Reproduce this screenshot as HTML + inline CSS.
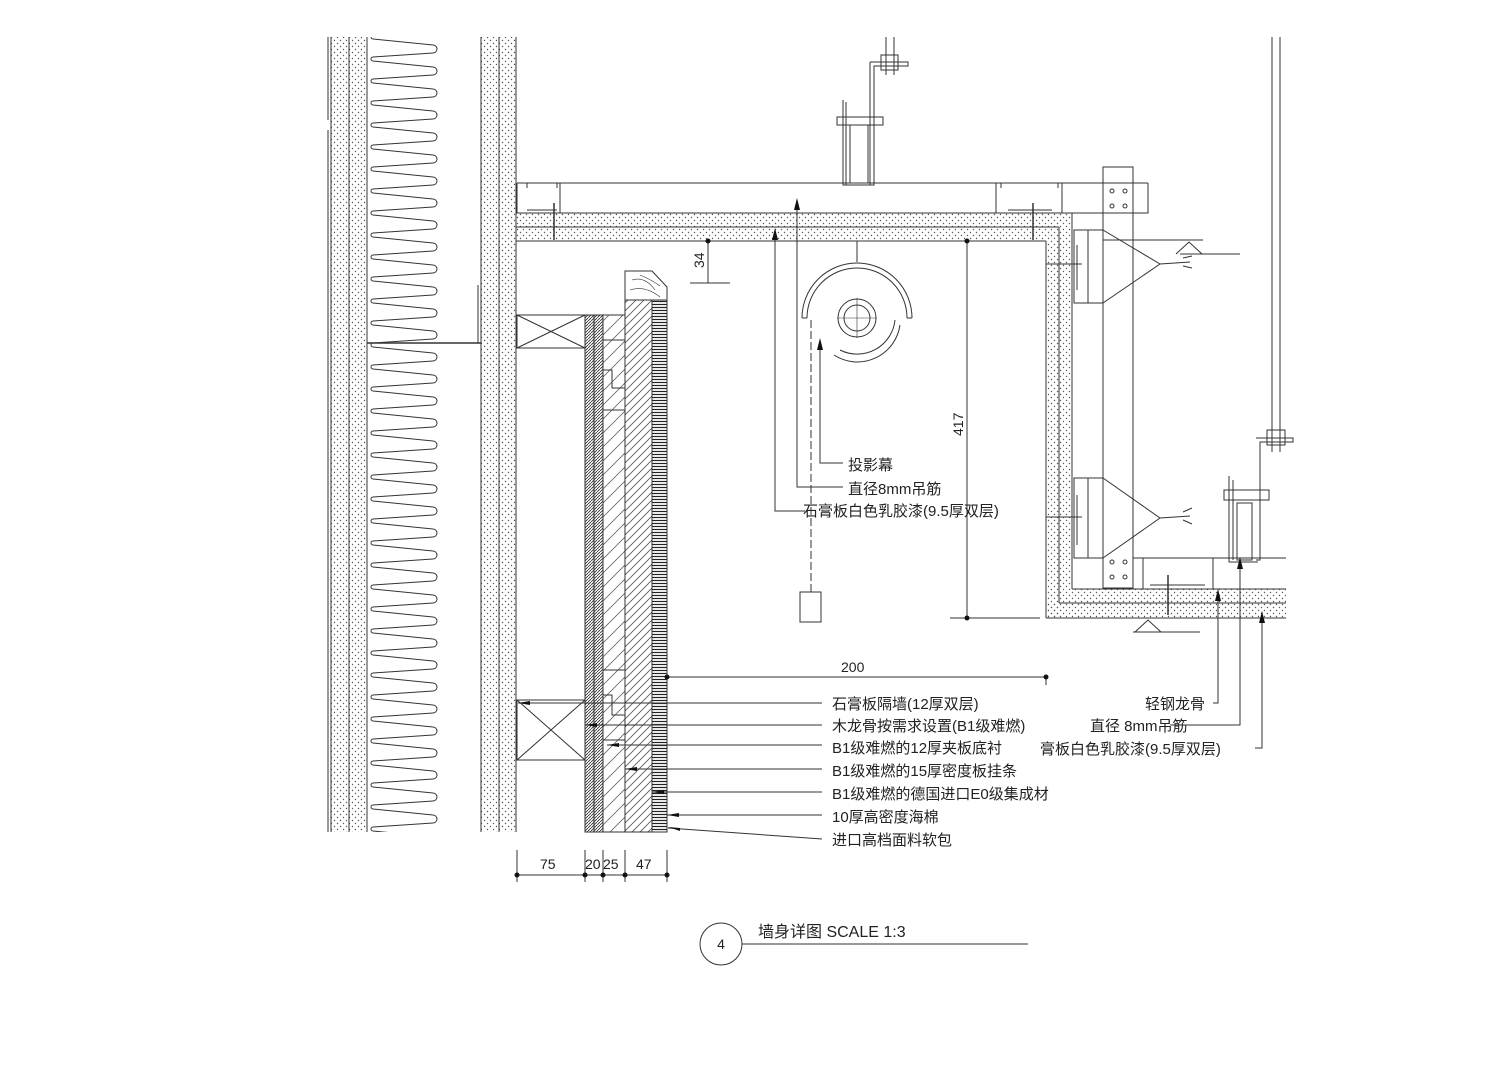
<!DOCTYPE html>
<html><head><meta charset="utf-8"><style>
html,body{margin:0;padding:0;background:#fff}
svg{display:block}
text{font-family:"Liberation Sans","Noto Sans CJK SC",sans-serif;fill:#222}
</style></head><body>
<svg width="1509" height="1066" viewBox="0 0 1509 1066" xmlns="http://www.w3.org/2000/svg">
<defs>
<pattern id="dots" width="6" height="6" patternUnits="userSpaceOnUse">
<circle cx="1.5" cy="1.5" r="0.7" fill="#555"/><circle cx="4.5" cy="4.5" r="0.7" fill="#555"/>
</pattern>
<pattern id="zig" x="367" y="37" width="75" height="22" patternUnits="userSpaceOnUse">
<path d="M6,2 L66,8 A4,4 0 0 1 66,16 L6,20 A2,2 0 0 0 6,24 M6,-2 A2,2 0 0 0 6,2" fill="none" stroke="#333" stroke-width="1"/>
</pattern>
<pattern id="hatch" width="8" height="8" patternUnits="userSpaceOnUse">
<path d="M0,8 L8,0 M-2,2 L2,-2 M6,10 L10,6" stroke="#555" stroke-width="0.8"/>
</pattern>
<pattern id="hatchw" width="14" height="14" patternUnits="userSpaceOnUse">
<path d="M0,14 L14,0 M-2,2 L2,-2 M12,16 L16,12" stroke="#666" stroke-width="0.8"/>
</pattern>
<pattern id="dense" width="3" height="3" patternUnits="userSpaceOnUse">
<path d="M0,3 L3,0" stroke="#333" stroke-width="0.9"/>
</pattern>
<pattern id="foam" width="15" height="3" patternUnits="userSpaceOnUse">
<path d="M0,1.5 L15,1.5" stroke="#222" stroke-width="1.2"/>
</pattern>
</defs>
<g fill="none" stroke="#333" stroke-width="1">
<rect x="331" y="37" width="36" height="795" fill="url(#dots)" stroke="none"/>
<line x1="331" y1="37" x2="331" y2="832"/><line x1="349" y1="37" x2="349" y2="832"/><line x1="367" y1="37" x2="367" y2="832"/>
<line x1="328" y1="37" x2="328" y2="120"/><line x1="328" y1="130" x2="328" y2="832"/>
<rect x="367" y="37" width="75" height="795" fill="url(#zig)" stroke="none"/>
<line x1="367" y1="343" x2="481" y2="343" stroke-width="1.5"/>
<line x1="478" y1="285" x2="478" y2="343"/>
<rect x="481" y="37" width="35" height="795" fill="url(#dots)" stroke="none"/>
<line x1="481" y1="37" x2="481" y2="832"/><line x1="499" y1="37" x2="499" y2="832"/><line x1="516" y1="37" x2="516" y2="832"/>
<rect x="516" y="213" width="556" height="14" fill="url(#dots)" stroke="none"/>
<rect x="516" y="227" width="543" height="14" fill="url(#dots)" stroke="none"/>
<path d="M516,213 H1072 M516,227 H1059 M516,241 H1046"/>
<line x1="517" y1="183" x2="1148" y2="183"/>
<path d="M517,183 V213 M560,183 V213 M527,188 V183 M557,188 V183 M527,210 H557" />
<path d="M996,183 V213 M1062,183 V213 M1001,188 V183 M1058,188 V183 M1008,210 H1052 M1148,183 V213 H1072"/>
<path d="M554,203 V240 M1033,203 V240" stroke-width="1.5"/>
<rect x="1046" y="241" width="13" height="377" fill="url(#dots)" stroke="none"/>
<rect x="1059" y="227" width="13" height="362" fill="url(#dots)" stroke="none"/>
<path d="M1046,241 V618 M1059,227 V603 M1072,213 V589"/>
<rect x="1059" y="589" width="227" height="14" fill="url(#dots)" stroke="none"/>
<rect x="1046" y="603" width="240" height="15" fill="url(#dots)" stroke="none"/>
<path d="M1072,589 H1286 M1059,603 H1286 M1046,618 H1286"/>
<path d="M1133,558 H1286 M1143,558 V589 M1213,558 V589 M1150,585 H1205" />
<line x1="1168" y1="575" x2="1168" y2="615" stroke-width="1.5"/>
<rect x="1103" y="167" width="30" height="421"/>
<g fill="none"><circle cx="1112" cy="191" r="2"/><circle cx="1125" cy="191" r="2"/><circle cx="1112" cy="206" r="2"/><circle cx="1125" cy="206" r="2"/>
<circle cx="1112" cy="562" r="2"/><circle cx="1125" cy="562" r="2"/><circle cx="1112" cy="577" r="2"/><circle cx="1125" cy="577" r="2"/></g>
<path d="M1103,230 H1074 V303 H1103 M1088,230 V303 M1077,245 V290"/>
<path d="M1103,230 L1160,264 L1103,303 M1160,264 L1190,262 M1183,258 L1192,256 M1183,266 L1192,268"/>
<path d="M1103,478 H1074 V558 H1103 M1088,478 V558 M1077,495 V545"/>
<path d="M1103,478 L1160,518 L1103,558 M1160,518 L1190,516 M1183,512 L1192,508 M1183,520 L1192,524"/>
<path d="M1046,264 H1082 M1046,517 H1082"/>
<path d="M1103,240 H1203 M1180,254 H1240 M1176,254 L1189,242 L1202,254"/>
<path d="M1133,632 H1200 M1135,632 L1148,620 L1161,632"/>
<path d="M886,37 V75 M894,37 V75 M881,55 H898 V70 H881 Z M870,62 H908 V66 H874 V185 H870 V62"/>
<path d="M843,100 V185 H873 M846,102 V185 M850,125 H868 V183 H850 Z M837,117 H883 V125 H837 Z"/>
<path d="M1272,37 V452 M1280,37 V452 M1267,430 H1285 V445 H1267 Z M1256,438 H1293 V442 H1260 V560 H1256"/>
<path d="M1229,476 V562 H1258 M1233,480 V560 M1237,503 H1252 V560 H1237 Z M1224,490 H1269 V500 H1224 Z"/>
<line x1="857" y1="241" x2="857" y2="262"/>
<circle cx="857" cy="318" r="19"/><circle cx="857" cy="318" r="13"/>
<path d="M837,318 H877 M857,298 V338" stroke-width="0.6"/>
<path d="M802,318 A55,55 0 0 1 912,318 M807,318 A50,50 0 0 1 907,318 M802,318 H807 M907,318 H912"/>
<path d="M900,325 A43,43 0 0 1 834,355 M895,320 A38,38 0 0 1 840,350"/>
<line x1="811" y1="320" x2="811" y2="592" stroke-dasharray="8,3"/>
<rect x="800" y="592" width="21" height="30"/>
<rect x="517" y="315" width="68" height="33"/><path d="M517,315 L585,348 M585,315 L517,348"/>
<rect x="517" y="700" width="68" height="60"/><path d="M517,700 L585,760 M585,700 L517,760"/>
<rect x="585" y="315" width="18" height="517" fill="url(#dense)"/>
<line x1="594" y1="315" x2="594" y2="832"/>
<rect x="603" y="315" width="22" height="517" fill="url(#hatchw)"/>
<path d="M603,340 H625 M603,370 H612 V388 H625 M603,410 H625 M603,670 H625 M603,695 H612 V715 H625 M603,740 H625"/>
<rect x="625" y="300" width="27" height="532" fill="url(#hatch)"/>
<rect x="652" y="300" width="15" height="532" fill="url(#foam)"/>
<line x1="652" y1="300" x2="652" y2="832"/><line x1="667" y1="300" x2="667" y2="832"/>
<path d="M625,300 V271 H652 L667,287 V300 H625" fill="#fff"/>
<path d="M632,280 Q645,276 655,290 M630,290 Q645,285 660,297 M640,275 Q652,280 660,286" stroke-width="0.6"/>
<path d="M708,241 V283 M690,283 H730"/>
<path d="M967,241 V618 M950,618 H1040"/>
<path d="M667,677 H1046 V685"/>
<path d="M517,875 H667 M517,850 V882 M585,850 V882 M603,850 V882 M625,850 V882 M667,850 V882"/>
</g>
<g fill="#111">
<circle cx="708" cy="241" r="2.5"/><circle cx="967" cy="241" r="2.5"/><circle cx="967" cy="618" r="2.5"/>
<circle cx="667" cy="677" r="2.5"/><circle cx="1046" cy="677" r="2.5"/>
<circle cx="517" cy="875" r="2.5"/><circle cx="585" cy="875" r="2.5"/><circle cx="603" cy="875" r="2.5"/><circle cx="625" cy="875" r="2.5"/><circle cx="667" cy="875" r="2.5"/>
</g>
<g fill="none" stroke="#333" stroke-width="1">
<path d="M820,340 V463 H843"/>
<path d="M797,200 V487 H843"/>
<path d="M775,230 V511 H805"/>
<path d="M518,703 H822 M585,725 H822 M607,745 H822 M625,769 H822 M652,792 H822 M667,815 H822 M668,828 L822,839"/>
<path d="M1213,703 H1218 V590 M1170,725 H1240 V558 M1255,748 H1262 V612"/>
</g>
<g fill="#111">
<path d="M817,350 L820,338 L823,350Z M794,210 L797,198 L800,210Z M772,240 L775,228 L778,240Z"/>
<path d="M530,701 L518,703 L530,705Z M597,723 L585,725 L597,727Z M619,743 L607,745 L619,747Z M637,767 L625,769 L637,771Z M664,790 L652,792 L664,794Z M679,813 L667,815 L679,817Z M680,828 L668,827 L680,831Z"/>
<path d="M1215,601 L1218,589 L1221,601Z M1237,569 L1240,557 L1243,569Z M1259,623 L1262,611 L1265,623Z"/>
</g>
<g font-size="15">
<text x="848" y="470">投影幕</text>
<text x="848" y="494">直径8mm吊筋</text>
<text x="803" y="516">石膏板白色乳胶漆(9.5厚双层)</text>
<text x="832" y="709">石膏板隔墙(12厚双层)</text>
<text x="832" y="731">木龙骨按需求设置(B1级难燃)</text>
<text x="832" y="753">B1级难燃的12厚夹板底衬</text>
<text x="832" y="776">B1级难燃的15厚密度板挂条</text>
<text x="832" y="799">B1级难燃的德国进口E0级集成材</text>
<text x="832" y="822">10厚高密度海棉</text>
<text x="832" y="845">进口高档面料软包</text>
<text x="1145" y="709">轻钢龙骨</text>
<text x="1090" y="731">直径 8mm吊筋</text>
<text x="1040" y="754">膏板白色乳胶漆(9.5厚双层)</text>
</g>
<g font-size="14" fill="#444">
<text x="841" y="672">200</text>
<text transform="translate(963,436) rotate(-90)">417</text>
<text transform="translate(704,268) rotate(-90)">34</text>
<text x="540" y="869">75</text>
<text x="585" y="869">20</text>
<text x="603" y="869">25</text>
<text x="636" y="869">47</text>
</g>
<circle cx="721" cy="944" r="21" fill="none" stroke="#333"/>
<text x="721" y="949" font-size="14" text-anchor="middle">4</text>
<line x1="742" y1="944" x2="1028" y2="944" stroke="#333"/>
<text x="758" y="937" font-size="16" font-family="Liberation Serif,'Noto Serif CJK SC',serif">墙身详图  SCALE 1:3</text>
</svg>
</body></html>
